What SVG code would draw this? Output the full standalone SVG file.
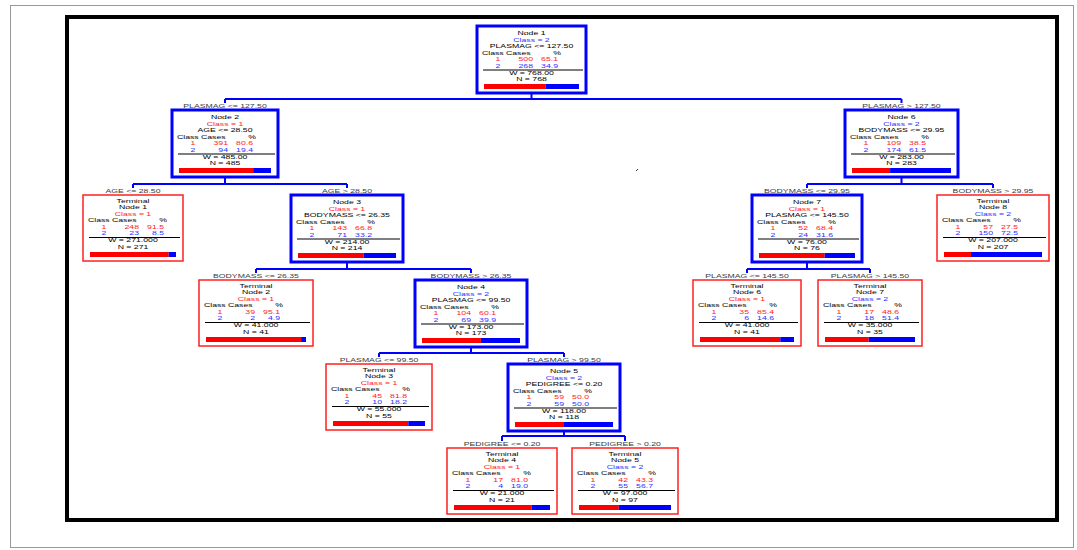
<svg xmlns="http://www.w3.org/2000/svg" width="1077" height="550" viewBox="0 0 1077 550">
<style>
text{font-family:"Liberation Sans",Arial,sans-serif;font-size:5.8px;fill:#000}
.m{text-anchor:middle}.e{text-anchor:end}
.r{fill:#ff1a1a}.b{fill:#3030ff}
.lbl{fill:#3a3a3a;text-anchor:middle}
.nb{fill:#fff;stroke:#0000ff;stroke-width:3}
.nt{fill:#fff;stroke:#ff2020;stroke-width:1.5}
.sep{stroke:#000;stroke-width:1.2}
.br{fill:#ff0000}.bb{fill:#0000ff}
.cn{fill:none;stroke:#0000ff;stroke-width:2}
</style>
<rect width="1077" height="550" fill="#fff"/>
<rect x="10.5" y="5.5" width="1063" height="542" fill="none" stroke="#999" stroke-width="1"/>
<rect x="67" y="17" width="990" height="503" fill="#fff" stroke="#000" stroke-width="4"/>
<path d="M636 171 l2 -2" stroke="#333" stroke-width="1"/>

<g id="connectors" class="cn">
<path d="M531.5 93V99M225 99H901.5M225 99V103M901.5 99V103"/>
<path d="M225 177V184M133 184H347M133 184V188M347 184V188"/>
<path d="M901.5 177V184M807 184H993M807 184V188M993 184V188"/>
<path d="M347 262V269M256 269H471M256 269V273M471 269V273"/>
<path d="M807 262V269M747 269H870M747 269V273M870 269V273"/>
<path d="M471 347V353M379 353H564M379 353V357M564 353V357"/>
<path d="M564 431V436M502 436H625M502 436V441M625 436V441"/>
</g>

<g id="edge-labels">
<text class="lbl" transform="translate(225,108) scale(1.5,1)">PLASMAG &lt;= 127.50</text>
<text class="lbl" transform="translate(901.5,108) scale(1.5,1)">PLASMAG &gt; 127.50</text>
<text class="lbl" transform="translate(133,193) scale(1.5,1)">AGE &lt;= 28.50</text>
<text class="lbl" transform="translate(347,193) scale(1.5,1)">AGE &gt; 28.50</text>
<text class="lbl" transform="translate(807,193) scale(1.5,1)">BODYMASS &lt;= 29.95</text>
<text class="lbl" transform="translate(993,193) scale(1.5,1)">BODYMASS &gt; 29.95</text>
<text class="lbl" transform="translate(256,278) scale(1.5,1)">BODYMASS &lt;= 26.35</text>
<text class="lbl" transform="translate(471,278) scale(1.5,1)">BODYMASS &gt; 26.35</text>
<text class="lbl" transform="translate(747,278) scale(1.5,1)">PLASMAG &lt;= 145.50</text>
<text class="lbl" transform="translate(870,278) scale(1.5,1)">PLASMAG &gt; 145.50</text>
<text class="lbl" transform="translate(379,362) scale(1.5,1)">PLASMAG &lt;= 99.50</text>
<text class="lbl" transform="translate(564,362) scale(1.5,1)">PLASMAG &gt; 99.50</text>
<text class="lbl" transform="translate(502,446) scale(1.5,1)">PEDIGREE &lt;= 0.20</text>
<text class="lbl" transform="translate(625,446) scale(1.5,1)">PEDIGREE &gt; 0.20</text>
</g>

<!-- split nodes: blue frame; text laid out in a 1.5x horizontally stretched group -->
<g id="node1" transform="translate(477,26)">
<rect class="nb" width="109" height="67"/>
<line class="sep" x1="6" y1="44" x2="106" y2="44"/>
<rect class="br" x="7" y="58" width="61.8" height="5"/><rect class="bb" x="68.8" y="58" width="33.2" height="5"/>
<g transform="scale(1.5,1)">
<text class="m" x="36.333" y="9.5">Node 1</text>
<text class="m b" x="36.333" y="16">Class = 2</text>
<text class="m" x="36.333" y="22.5">PLASMAG &lt;= 127.50</text>
<text x="3.333" y="29">Class</text><text x="19.333" y="29">Cases</text><text class="m" x="53.333" y="29">%</text>
<text class="m r" x="14" y="35.5">1</text><text class="e r" x="37.333" y="35.5">500</text><text class="e r" x="54" y="35.5">65.1</text>
<text class="m b" x="14" y="42">2</text><text class="e b" x="37.333" y="42">268</text><text class="e b" x="54" y="42">34.9</text>
<text class="m" x="36.333" y="49">W = 768.00</text>
<text class="m" x="36.333" y="55.5">N = 768</text>
</g>
</g>

<g id="node2" transform="translate(172,110)">
<rect class="nb" width="106" height="67"/>
<line class="sep" x1="6" y1="44" x2="103" y2="44"/>
<rect class="br" x="7" y="58" width="74.2" height="5"/><rect class="bb" x="81.2" y="58" width="17.8" height="5"/>
<g transform="scale(1.5,1)">
<text class="m" x="35.333" y="9.5">Node 2</text>
<text class="m r" x="35.333" y="16">Class = 1</text>
<text class="m" x="35.333" y="22.5">AGE &lt;= 28.50</text>
<text x="3.333" y="29">Class</text><text x="19.333" y="29">Cases</text><text class="m" x="53.333" y="29">%</text>
<text class="m r" x="14" y="35.5">1</text><text class="e r" x="37.333" y="35.5">391</text><text class="e r" x="54" y="35.5">80.6</text>
<text class="m b" x="14" y="42">2</text><text class="e b" x="37.333" y="42">94</text><text class="e b" x="54" y="42">19.4</text>
<text class="m" x="35.333" y="49">W = 485.00</text>
<text class="m" x="35.333" y="55.5">N = 485</text>
</g>
</g>

<g id="node6" transform="translate(845,110)">
<rect class="nb" width="113" height="67"/>
<line class="sep" x1="6" y1="44" x2="110" y2="44"/>
<rect class="br" x="7" y="58" width="38.1" height="5"/><rect class="bb" x="45.1" y="58" width="60.9" height="5"/>
<g transform="scale(1.5,1)">
<text class="m" x="37.667" y="9.5">Node 6</text>
<text class="m b" x="37.667" y="16">Class = 2</text>
<text class="m" x="37.667" y="22.5">BODYMASS &lt;= 29.95</text>
<text x="3.333" y="29">Class</text><text x="19.333" y="29">Cases</text><text class="m" x="53.333" y="29">%</text>
<text class="m r" x="14" y="35.5">1</text><text class="e r" x="37.333" y="35.5">109</text><text class="e r" x="54" y="35.5">38.5</text>
<text class="m b" x="14" y="42">2</text><text class="e b" x="37.333" y="42">174</text><text class="e b" x="54" y="42">61.5</text>
<text class="m" x="37.667" y="49">W = 283.00</text>
<text class="m" x="37.667" y="55.5">N = 283</text>
</g>
</g>

<!-- terminal nodes: red frame -->
<g id="terminal1" transform="translate(83,195)">
<rect class="nt" width="100" height="66"/>
<line class="sep" x1="6" y1="42.5" x2="97" y2="42.5"/>
<rect class="br" x="7" y="57" width="78.7" height="5"/><rect class="bb" x="85.7" y="57" width="7.3" height="5"/>
<g transform="scale(1.5,1)">
<text class="m" x="33.333" y="8">Terminal</text>
<text class="m" x="33.333" y="14.5">Node 1</text>
<text class="m r" x="33.333" y="21">Class = 1</text>
<text x="3.333" y="27.5">Class</text><text x="19.333" y="27.5">Cases</text><text class="m" x="53.333" y="27.5">%</text>
<text class="m r" x="14" y="34">1</text><text class="e r" x="37.333" y="34">248</text><text class="e r" x="54" y="34">91.5</text>
<text class="m b" x="14" y="40.5">2</text><text class="e b" x="37.333" y="40.5">23</text><text class="e b" x="54" y="40.5">8.5</text>
<text class="m" x="33.333" y="47.5">W = 271.000</text>
<text class="m" x="33.333" y="54">N = 271</text>
</g>
</g>

<g id="node3" transform="translate(291,195)">
<rect class="nb" width="112" height="67"/>
<line class="sep" x1="6" y1="44" x2="109" y2="44"/>
<rect class="br" x="7" y="58" width="65.5" height="5"/><rect class="bb" x="72.5" y="58" width="32.5" height="5"/>
<g transform="scale(1.5,1)">
<text class="m" x="37.333" y="9.5">Node 3</text>
<text class="m r" x="37.333" y="16">Class = 1</text>
<text class="m" x="37.333" y="22.5">BODYMASS &lt;= 26.35</text>
<text x="3.333" y="29">Class</text><text x="19.333" y="29">Cases</text><text class="m" x="53.333" y="29">%</text>
<text class="m r" x="14" y="35.5">1</text><text class="e r" x="37.333" y="35.5">143</text><text class="e r" x="54" y="35.5">66.8</text>
<text class="m b" x="14" y="42">2</text><text class="e b" x="37.333" y="42">71</text><text class="e b" x="54" y="42">33.2</text>
<text class="m" x="37.333" y="49">W = 214.00</text>
<text class="m" x="37.333" y="55.5">N = 214</text>
</g>
</g>

<g id="node7" transform="translate(752,195)">
<rect class="nb" width="110" height="67"/>
<line class="sep" x1="6" y1="44" x2="107" y2="44"/>
<rect class="br" x="7" y="58" width="65.7" height="5"/><rect class="bb" x="72.7" y="58" width="30.3" height="5"/>
<g transform="scale(1.5,1)">
<text class="m" x="36.667" y="9.5">Node 7</text>
<text class="m r" x="36.667" y="16">Class = 1</text>
<text class="m" x="36.667" y="22.5">PLASMAG &lt;= 145.50</text>
<text x="3.333" y="29">Class</text><text x="19.333" y="29">Cases</text><text class="m" x="53.333" y="29">%</text>
<text class="m r" x="14" y="35.5">1</text><text class="e r" x="37.333" y="35.5">52</text><text class="e r" x="54" y="35.5">68.4</text>
<text class="m b" x="14" y="42">2</text><text class="e b" x="37.333" y="42">24</text><text class="e b" x="54" y="42">31.6</text>
<text class="m" x="36.667" y="49">W = 76.00</text>
<text class="m" x="36.667" y="55.5">N = 76</text>
</g>
</g>

<g id="terminal8" transform="translate(937,195)">
<rect class="nt" width="112" height="66"/>
<line class="sep" x1="6" y1="42.5" x2="109" y2="42.5"/>
<rect class="br" x="7" y="57" width="27" height="5"/><rect class="bb" x="34" y="57" width="71" height="5"/>
<g transform="scale(1.5,1)">
<text class="m" x="37.333" y="8">Terminal</text>
<text class="m" x="37.333" y="14.5">Node 8</text>
<text class="m b" x="37.333" y="21">Class = 2</text>
<text x="3.333" y="27.5">Class</text><text x="19.333" y="27.5">Cases</text><text class="m" x="53.333" y="27.5">%</text>
<text class="m r" x="14" y="34">1</text><text class="e r" x="37.333" y="34">57</text><text class="e r" x="54" y="34">27.5</text>
<text class="m b" x="14" y="40.5">2</text><text class="e b" x="37.333" y="40.5">150</text><text class="e b" x="54" y="40.5">72.5</text>
<text class="m" x="37.333" y="47.5">W = 207.000</text>
<text class="m" x="37.333" y="54">N = 207</text>
</g>
</g>

<g id="terminal2" transform="translate(199,280)">
<rect class="nt" width="114" height="66"/>
<line class="sep" x1="6" y1="42.5" x2="111" y2="42.5"/>
<rect class="br" x="7" y="57" width="95.1" height="5"/><rect class="bb" x="102.1" y="57" width="4.9" height="5"/>
<g transform="scale(1.5,1)">
<text class="m" x="38" y="8">Terminal</text>
<text class="m" x="38" y="14.5">Node 2</text>
<text class="m r" x="38" y="21">Class = 1</text>
<text x="3.333" y="27.5">Class</text><text x="19.333" y="27.5">Cases</text><text class="m" x="53.333" y="27.5">%</text>
<text class="m r" x="14" y="34">1</text><text class="e r" x="37.333" y="34">39</text><text class="e r" x="54" y="34">95.1</text>
<text class="m b" x="14" y="40.5">2</text><text class="e b" x="37.333" y="40.5">2</text><text class="e b" x="54" y="40.5">4.9</text>
<text class="m" x="38" y="47.5">W = 41.000</text>
<text class="m" x="38" y="54">N = 41</text>
</g>
</g>

<g id="node4" transform="translate(415,280)">
<rect class="nb" width="112" height="67"/>
<line class="sep" x1="6" y1="44" x2="109" y2="44"/>
<rect class="br" x="7" y="58" width="58.9" height="5"/><rect class="bb" x="65.9" y="58" width="39.1" height="5"/>
<g transform="scale(1.5,1)">
<text class="m" x="37.333" y="9.5">Node 4</text>
<text class="m b" x="37.333" y="16">Class = 2</text>
<text class="m" x="37.333" y="22.5">PLASMAG &lt;= 99.50</text>
<text x="3.333" y="29">Class</text><text x="19.333" y="29">Cases</text><text class="m" x="53.333" y="29">%</text>
<text class="m r" x="14" y="35.5">1</text><text class="e r" x="37.333" y="35.5">104</text><text class="e r" x="54" y="35.5">60.1</text>
<text class="m b" x="14" y="42">2</text><text class="e b" x="37.333" y="42">69</text><text class="e b" x="54" y="42">39.9</text>
<text class="m" x="37.333" y="49">W = 173.00</text>
<text class="m" x="37.333" y="55.5">N = 173</text>
</g>
</g>

<g id="terminal6" transform="translate(693,280)">
<rect class="nt" width="108" height="66"/>
<line class="sep" x1="6" y1="42.5" x2="105" y2="42.5"/>
<rect class="br" x="7" y="57" width="80.3" height="5"/><rect class="bb" x="87.3" y="57" width="13.7" height="5"/>
<g transform="scale(1.5,1)">
<text class="m" x="36" y="8">Terminal</text>
<text class="m" x="36" y="14.5">Node 6</text>
<text class="m r" x="36" y="21">Class = 1</text>
<text x="3.333" y="27.5">Class</text><text x="19.333" y="27.5">Cases</text><text class="m" x="53.333" y="27.5">%</text>
<text class="m r" x="14" y="34">1</text><text class="e r" x="37.333" y="34">35</text><text class="e r" x="54" y="34">85.4</text>
<text class="m b" x="14" y="40.5">2</text><text class="e b" x="37.333" y="40.5">6</text><text class="e b" x="54" y="40.5">14.6</text>
<text class="m" x="36" y="47.5">W = 41.000</text>
<text class="m" x="36" y="54">N = 41</text>
</g>
</g>

<g id="terminal7" transform="translate(818,280)">
<rect class="nt" width="104" height="66"/>
<line class="sep" x1="6" y1="42.5" x2="101" y2="42.5"/>
<rect class="br" x="7" y="57" width="43.7" height="5"/><rect class="bb" x="50.7" y="57" width="46.3" height="5"/>
<g transform="scale(1.5,1)">
<text class="m" x="34.667" y="8">Terminal</text>
<text class="m" x="34.667" y="14.5">Node 7</text>
<text class="m b" x="34.667" y="21">Class = 2</text>
<text x="3.333" y="27.5">Class</text><text x="19.333" y="27.5">Cases</text><text class="m" x="53.333" y="27.5">%</text>
<text class="m r" x="14" y="34">1</text><text class="e r" x="37.333" y="34">17</text><text class="e r" x="54" y="34">48.6</text>
<text class="m b" x="14" y="40.5">2</text><text class="e b" x="37.333" y="40.5">18</text><text class="e b" x="54" y="40.5">51.4</text>
<text class="m" x="34.667" y="47.5">W = 35.000</text>
<text class="m" x="34.667" y="54">N = 35</text>
</g>
</g>

<g id="terminal3" transform="translate(326,364)">
<rect class="nt" width="106" height="66"/>
<line class="sep" x1="6" y1="42.5" x2="103" y2="42.5"/>
<rect class="br" x="7" y="57" width="75.3" height="5"/><rect class="bb" x="82.3" y="57" width="16.7" height="5"/>
<g transform="scale(1.5,1)">
<text class="m" x="35.333" y="8">Terminal</text>
<text class="m" x="35.333" y="14.5">Node 3</text>
<text class="m r" x="35.333" y="21">Class = 1</text>
<text x="3.333" y="27.5">Class</text><text x="19.333" y="27.5">Cases</text><text class="m" x="53.333" y="27.5">%</text>
<text class="m r" x="14" y="34">1</text><text class="e r" x="37.333" y="34">45</text><text class="e r" x="54" y="34">81.8</text>
<text class="m b" x="14" y="40.5">2</text><text class="e b" x="37.333" y="40.5">10</text><text class="e b" x="54" y="40.5">18.2</text>
<text class="m" x="35.333" y="47.5">W = 55.000</text>
<text class="m" x="35.333" y="54">N = 55</text>
</g>
</g>

<g id="node5" transform="translate(508,364)">
<rect class="nb" width="112" height="67"/>
<line class="sep" x1="6" y1="44" x2="109" y2="44"/>
<rect class="br" x="7" y="58" width="49" height="5"/><rect class="bb" x="56" y="58" width="49" height="5"/>
<g transform="scale(1.5,1)">
<text class="m" x="37.333" y="9.5">Node 5</text>
<text class="m b" x="37.333" y="16">Class = 2</text>
<text class="m" x="37.333" y="22.5">PEDIGREE &lt;= 0.20</text>
<text x="3.333" y="29">Class</text><text x="19.333" y="29">Cases</text><text class="m" x="53.333" y="29">%</text>
<text class="m r" x="14" y="35.5">1</text><text class="e r" x="37.333" y="35.5">59</text><text class="e r" x="54" y="35.5">50.0</text>
<text class="m b" x="14" y="42">2</text><text class="e b" x="37.333" y="42">59</text><text class="e b" x="54" y="42">50.0</text>
<text class="m" x="37.333" y="49">W = 118.00</text>
<text class="m" x="37.333" y="55.5">N = 118</text>
</g>
</g>

<g id="terminal4" transform="translate(447,448)">
<rect class="nt" width="110" height="66"/>
<line class="sep" x1="6" y1="42.5" x2="107" y2="42.5"/>
<rect class="br" x="7" y="57" width="77.8" height="5"/><rect class="bb" x="84.8" y="57" width="18.2" height="5"/>
<g transform="scale(1.5,1)">
<text class="m" x="36.667" y="8">Terminal</text>
<text class="m" x="36.667" y="14.5">Node 4</text>
<text class="m r" x="36.667" y="21">Class = 1</text>
<text x="3.333" y="27.5">Class</text><text x="19.333" y="27.5">Cases</text><text class="m" x="53.333" y="27.5">%</text>
<text class="m r" x="14" y="34">1</text><text class="e r" x="37.333" y="34">17</text><text class="e r" x="54" y="34">81.0</text>
<text class="m b" x="14" y="40.5">2</text><text class="e b" x="37.333" y="40.5">4</text><text class="e b" x="54" y="40.5">19.0</text>
<text class="m" x="36.667" y="47.5">W = 21.000</text>
<text class="m" x="36.667" y="54">N = 21</text>
</g>
</g>

<g id="terminal5" transform="translate(572,448)">
<rect class="nt" width="106" height="66"/>
<line class="sep" x1="6" y1="42.5" x2="103" y2="42.5"/>
<rect class="br" x="7" y="57" width="39.8" height="5"/><rect class="bb" x="46.8" y="57" width="52.2" height="5"/>
<g transform="scale(1.5,1)">
<text class="m" x="35.333" y="8">Terminal</text>
<text class="m" x="35.333" y="14.5">Node 5</text>
<text class="m b" x="35.333" y="21">Class = 2</text>
<text x="3.333" y="27.5">Class</text><text x="19.333" y="27.5">Cases</text><text class="m" x="53.333" y="27.5">%</text>
<text class="m r" x="14" y="34">1</text><text class="e r" x="37.333" y="34">42</text><text class="e r" x="54" y="34">43.3</text>
<text class="m b" x="14" y="40.5">2</text><text class="e b" x="37.333" y="40.5">55</text><text class="e b" x="54" y="40.5">56.7</text>
<text class="m" x="35.333" y="47.5">W = 97.000</text>
<text class="m" x="35.333" y="54">N = 97</text>
</g>
</g>
</svg>
